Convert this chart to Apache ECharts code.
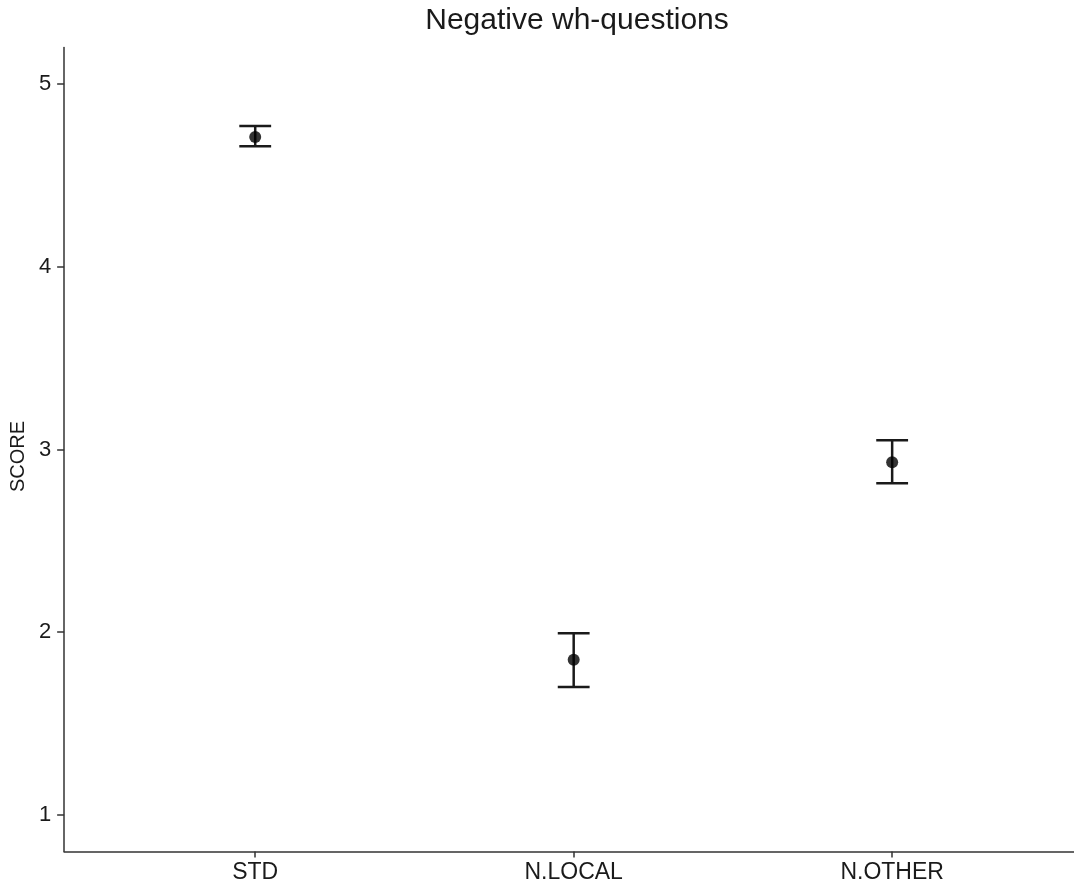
<!DOCTYPE html>
<html>
<head>
<meta charset="utf-8">
<script src="https://cdn.jsdelivr.net/npm/echarts@6/dist/echarts.min.js"></script>
<style>
  html, body { margin: 0; padding: 0; background: #fff; }
  #chart { width: 1074px; height: 885px; }
</style>
</head>
<body>
<div id="chart"></div>
<script>
// Group means with lower/upper error-bar limits
const categories = ['STD', 'N.LOCAL', 'N.OTHER'];
const means = [4.71, 1.85, 2.93];
const lower = [4.66, 1.70, 2.815];
const upper = [4.77, 1.995, 3.05];
const yTicks = [1, 2, 3, 4, 5];
const xPositions = [1, 2, 3];

const FONT = 'Liberation Sans, Arial, Helvetica, sans-serif';
const INK = '#1a1a1a';

const chart = echarts.init(document.getElementById('chart'), null, { renderer: 'canvas' });

const pointData = xPositions.map((x, i) => [x, means[i]]);
const barData = xPositions.map((x, i) => [x, lower[i], upper[i]]);

chart.setOption({
  backgroundColor: '#ffffff',
  animation: false,
  title: {
    text: 'Negative wh-questions',
    left: 572,
    top: 1,
    textAlign: 'center',
    textStyle: { fontFamily: FONT, fontSize: 30, fontWeight: 'normal', color: INK }
  },
  grid: { left: 63, top: 47.5, right: 0, height: 804, containLabel: false },
  xAxis: {
    type: 'value',
    min: 0.4,
    max: 3.571,
    axisLine: { show: true, lineStyle: { color: '#333', width: 1.5 } },
    axisTick: { show: true, length: 6, customValues: xPositions, lineStyle: { color: '#333', width: 1.5 } },
    axisLabel: {
      customValues: xPositions,
      formatter: v => categories[Math.round(v) - 1],
      margin: 10,
      fontFamily: FONT, fontSize: 23, color: INK
    },
    splitLine: { show: false }
  },
  yAxis: {
    type: 'value',
    min: 0.8,
    max: 5.2,
    name: 'SCORE',
    nameLocation: 'middle',
    nameGap: 36,
    nameTextStyle: { fontFamily: FONT, fontSize: 20, color: INK, padding: [0, 14, 0, 0] },
    axisLine: { show: true, lineStyle: { color: '#333', width: 1.5 } },
    axisTick: { show: true, length: 7, customValues: yTicks, lineStyle: { color: '#333', width: 1.5 } },
    axisLabel: {
      customValues: yTicks,
      margin: 13,
      fontFamily: FONT, fontSize: 22, color: INK
    },
    splitLine: { show: false }
  },
  series: [
    {
      type: 'custom',
      name: 'error',
      data: barData,
      renderItem: function (params, api) {
        const x = api.value(0);
        const lo = api.coord([x, api.value(1)]);
        const hi = api.coord([x, api.value(2)]);
        const half = (api.coord([x + 0.05, 0])[0] - api.coord([x - 0.05, 0])[0]) / 2;
        const style = { stroke: INK, lineWidth: 2.5, fill: null };
        return {
          type: 'group',
          children: [
            { type: 'line', shape: { x1: lo[0], y1: lo[1], x2: hi[0], y2: hi[1] }, style },
            { type: 'line', shape: { x1: lo[0] - half, y1: lo[1], x2: lo[0] + half, y2: lo[1] }, style },
            { type: 'line', shape: { x1: hi[0] - half, y1: hi[1], x2: hi[0] + half, y2: hi[1] }, style }
          ]
        };
      },
      z: 2
    },
    {
      type: 'scatter',
      name: 'mean',
      data: pointData,
      symbol: 'circle',
      symbolSize: 12,
      itemStyle: { color: '#000' },
      z: 3
    }
  ]
});
</script>
</body>
</html>
